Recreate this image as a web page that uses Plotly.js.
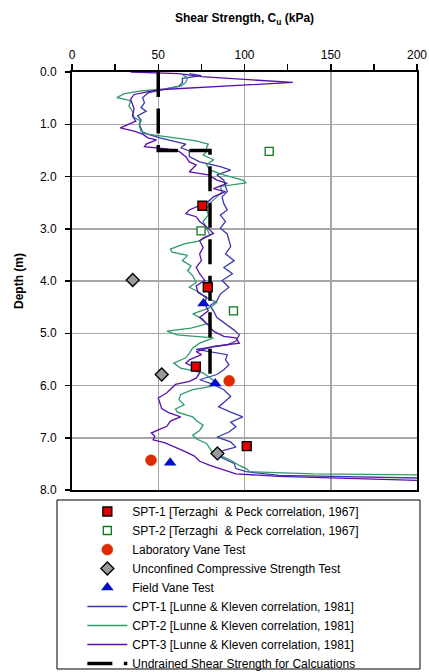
<!DOCTYPE html>
<html>
<head>
<meta charset="utf-8">
<script src="https://cdn.plot.ly/plotly-3.0.1.min.js"></script>
<style>
html,body{margin:0;padding:0;background:#fff;}
#chart{width:429px;height:672px;}
</style>
</head>
<body>
<div id="chart"></div>
<script>
// ---- Data (Shear strength in kPa vs depth in m) ----
const spt1Cu = [75.6, 78.7, 71.8, 101.3];
const spt1Depth = [2.56, 4.12, 5.64, 7.16];

const spt2Cu = [114.3, 74.8, 93.6];
const spt2Depth = [1.52, 3.04, 4.57];

const labVaneCu = [91.1, 45.8];
const labVaneDepth = [5.91, 7.43];

const ucsCu = [35.2, 52.0, 84.3];
const ucsDepth = [3.98, 5.79, 7.30];

const fieldVaneCu = [76.2, 83.0, 56.9];
const fieldVaneDepth = [4.43, 5.96, 7.48];

const cpt1Depth = [0.03,0.07,0.12,0.20,0.27,0.32,0.40,0.49,0.59,0.68,0.75,0.84,0.91,1.00,1.10,1.16,1.26,1.32,1.38,1.45,1.51,1.62,1.72,1.81,1.88,1.97,2.07,2.19,2.29,2.39,2.52,2.64,2.74,2.86,2.99,3.10,3.23,3.34,3.48,3.61,3.74,3.86,3.99,4.12,4.25,4.38,4.47,4.57,4.70,4.84,4.94,5.03,5.15,5.22,5.31,5.41,5.51,5.60,5.70,5.79,5.89,5.98,6.08,6.21,6.32,6.41,6.51,6.60,6.70,6.79,6.89,6.99,7.08,7.18,7.24,7.30,7.37,7.49,7.59,7.65,7.72,7.75,7.78];
const cpt1Cu = [68,75,64,64,62,55,44,41,42,40,43,38,40,39,40,41,51,59,66,63,68,68,74,86,92,84,88,89,90,87,88,90,86,89,86,90,91,92,89,94,88,93,87,91,86,84,80,82,84,90,94,97,95,90,72,90,89,91,88,84,74,82,88,92,88,85,92,99,92,95,91,84,92,95,88,85,86,94,95,101,120,170,215];

const cpt2Depth = [0.05,0.11,0.20,0.27,0.33,0.36,0.42,0.49,0.52,0.55,0.65,0.75,0.87,0.94,1.03,1.13,1.19,1.26,1.32,1.38,1.45,1.52,1.59,1.68,1.78,1.88,1.97,2.07,2.12,2.19,2.29,2.39,2.48,2.61,2.74,2.86,2.99,3.12,3.23,3.29,3.39,3.45,3.51,3.61,3.71,3.80,3.90,4.03,4.12,4.22,4.31,4.41,4.51,4.63,4.73,4.82,4.90,4.96,5.03,5.09,5.19,5.28,5.38,5.47,5.57,5.67,5.76,5.86,5.95,6.02,6.08,6.17,6.27,6.37,6.45,6.51,6.60,6.67,6.76,6.86,6.95,7.02,7.11,7.21,7.31,7.37,7.43,7.53,7.59,7.65,7.69,7.71,7.73];
const cpt2Cu = [64,67,66,63,53,40,30,26,30,34,33,35,36,40,39,40,44,59,72,79,78,78,76,82,78,80,88,99,101,86,87,84,81,78,79,76,78,80,74,65,57,58,67,64,69,67,70,72,68,74,77,84,80,70,76,78,69,55,61,82,74,70,68,66,59,63,76,80,84,80,70,63,62,65,60,61,70,72,76,74,70,72,78,80,82,88,92,97,101,103,140,200,215];

const cpt3Depth = [0.00,0.03,0.09,0.20,0.34,0.43,0.52,0.62,0.71,0.84,0.94,1.07,1.13,1.19,1.26,1.30,1.38,1.43,1.47,1.52,1.62,1.72,1.78,1.91,1.97,2.07,2.13,2.23,2.29,2.39,2.48,2.64,2.71,2.77,2.86,2.96,3.09,3.18,3.23,3.36,3.48,3.61,3.74,3.86,3.99,4.09,4.22,4.31,4.44,4.57,4.70,4.84,4.96,5.06,5.09,5.19,5.25,5.35,5.41,5.51,5.57,5.67,5.76,5.86,5.92,5.98,6.04,6.14,6.24,6.33,6.44,6.52,6.60,6.68,6.78,6.85,6.91,6.97,7.04,7.10,7.18,7.27,7.35,7.45,7.53,7.62,7.69,7.74,7.80,7.83];
const cpt3Cu = [34,62,75,128,50,36,34,35,36,35,37,28,36,41,44,49,43,42,55,62,66,68,72,68,79,84,90,82,89,82,79,68,66,72,74,78,82,76,74,76,74,75,72,74,77,72,73,78,77,79,74,79,82,88,95,97,82,72,75,68,66,72,74,72,68,60,58,55,50,51,52,56,63,57,55,50,46,48,47,54,60,66,71,74,80,88,95,120,180,215];

const designCu = [50, 50, 80, 80];
const designDepth = [0, 1.5, 1.5, 5.85];

const xTicks = [0, 50, 100, 150, 200];
const yTicks = [0, 1, 2, 3, 4, 5, 6, 7, 8];

const FONT = 'Liberation Sans, Arial, sans-serif';

const traces = [
  {x: cpt1Cu, y: cpt1Depth, mode: 'lines', name: 'CPT-1 [Lunne & Kleven correlation, 1981]',
   line: {color: '#3a3ab0', width: 1.3}, legendrank: 6},
  {x: cpt2Cu, y: cpt2Depth, mode: 'lines', name: 'CPT-2 [Lunne & Kleven correlation, 1981]',
   line: {color: '#2f9a68', width: 1.3}, legendrank: 7},
  {x: cpt3Cu, y: cpt3Depth, mode: 'lines', name: 'CPT-3 [Lunne & Kleven correlation, 1981]',
   line: {color: '#5a10b0', width: 1.3}, legendrank: 8},
  {x: designCu, y: designDepth, mode: 'lines', name: 'Undrained Shear Strength for Calcuations',
   line: {color: '#000000', width: 3.5, dash: '25px,11.5px'}, legendrank: 9},
  {x: spt1Cu, y: spt1Depth, mode: 'markers', name: 'SPT-1 [Terzaghi &nbsp;& Peck correlation, 1967]',
   marker: {symbol: 'square', size: 9, color: '#e00000', line: {color: '#000', width: 1.3}}, legendrank: 1},
  {x: spt2Cu, y: spt2Depth, mode: 'markers', name: 'SPT-2 [Terzaghi &nbsp;& Peck correlation, 1967]',
   marker: {symbol: 'square', size: 8, color: '#ffffff', line: {color: '#0a7a1a', width: 1.3}}, legendrank: 2},
  {x: labVaneCu, y: labVaneDepth, mode: 'markers', name: 'Laboratory Vane Test',
   marker: {symbol: 'circle', size: 11, color: '#dd2a00', line: {color: '#c04000', width: 0.5}}, legendrank: 3},
  {x: ucsCu, y: ucsDepth, mode: 'markers', name: 'Unconfined Compressive Strength Test',
   marker: {symbol: 'diamond', size: 10, color: '#999999', line: {color: '#000', width: 1.3}}, legendrank: 4},
  {x: fieldVaneCu, y: fieldVaneDepth, mode: 'markers', name: 'Field Vane Test',
   marker: {symbol: 'triangle-up', size: 11, color: '#0010c8', line: {color: '#0010c8', width: 0}}, legendrank: 5}
];

const layout = {
  width: 429, height: 672,
  margin: {l: 72, r: 12, t: 72, b: 182, pad: 0, autoexpand: false},
  paper_bgcolor: '#fff', plot_bgcolor: '#fff',
  font: {family: FONT, size: 12, color: '#000'},
  showlegend: true,
  title: {text: '<b>Shear Strength, C<sub>u</sub> (kPa)</b>', font: {family: FONT, size: 12, color: '#000'},
          xref: 'paper', x: 0.5, xanchor: 'center', yref: 'container', y: 0.973, yanchor: 'middle'},
  xaxis: {
    side: 'top', range: [0, 200], tickvals: xTicks, ticktext: xTicks.map(String),
    ticks: 'outside', ticklen: 6, tickwidth: 1.5, tickcolor: '#000',
    minor: {dtick: 25, ticks: 'outside', ticklen: 6, tickwidth: 1.5, tickcolor: '#000', showgrid: false},
    showline: true, linecolor: '#000', linewidth: 2, mirror: true,
    showgrid: true, gridcolor: '#a6a6a6', gridwidth: 1.5, zeroline: false,
    tickfont: {family: FONT, size: 12, color: '#000'}, fixedrange: true, automargin: false
  },
  yaxis: {
    range: [8, 0], tickvals: yTicks, ticktext: yTicks.map(v => v.toFixed(1)),
    ticks: 'outside', ticklen: 5, tickwidth: 1.5, tickcolor: '#000',
    showline: true, linecolor: '#000', linewidth: 2, mirror: true,
    showgrid: true, gridcolor: '#a6a6a6', gridwidth: 1.5, zeroline: false,
    tickfont: {family: FONT, size: 12, color: '#000'}, ticklabelstandoff: 6,
    title: {text: '<b>Depth (m)</b>', font: {family: FONT, size: 12, color: '#000'}, standoff: 14},
    fixedrange: true, automargin: false
  },
  legend: {
    x: 0.03, xanchor: 'left', y: -0.0168, yanchor: 'top',
    bgcolor: 'rgba(0,0,0,0)', borderwidth: 0,
    font: {family: FONT, size: 12, color: '#000'},
    itemwidth: 40, traceorder: 'normal', tracegroupgap: 0
  },
  shapes: [{
    type: 'rect', xref: 'paper', yref: 'paper',
    x0: -0.0435, x1: 1.0087, y0: -0.4282, y1: -0.0239,
    line: {color: '#000', width: 1}, fillcolor: 'rgba(0,0,0,0)'
  }]
};

Plotly.newPlot('chart', traces, layout, {displayModeBar: false, staticPlot: true});
</script>
</body>
</html>
